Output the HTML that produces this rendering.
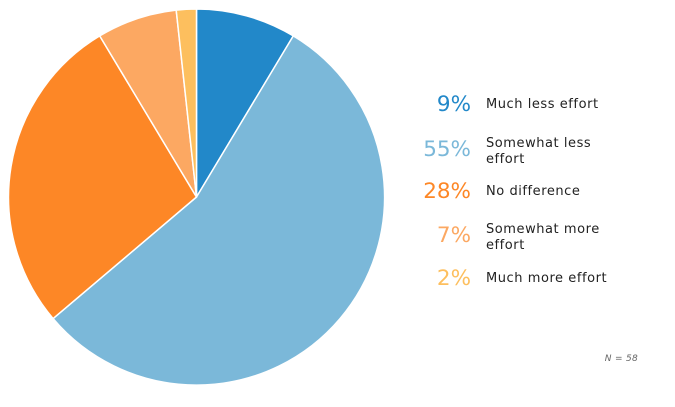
<!DOCTYPE html>
<html><head><meta charset="utf-8"><style>
body{margin:0;background:#fff;width:675px;height:407px;overflow:hidden}
svg{display:block}
text{font-family:"DejaVu Sans","Liberation Sans",sans-serif}
</style></head><body>
<svg width="675" height="407" viewBox="0 0 675 407">
<g stroke="#fff" stroke-width="1.5">
<path d="M196.5,197 L196.5,9 A188,188 0 0 1 293.3,35.9 Z" fill="#2288c9"/>
<path d="M196.5,197 L293.3,35.9 A188,188 0 1 1 53.1,318.6 Z" fill="#7bb8d9"/>
<path d="M196.5,197 L53.1,318.6 A188,188 0 0 1 99.7,35.9 Z" fill="#fd8726"/>
<path d="M196.5,197 L99.7,35.9 A188,188 0 0 1 176.2,10.1 Z" fill="#fca862"/>
<path d="M196.5,197 L176.2,10.1 A188,188 0 0 1 196.5,9 Z" fill="#fdbf5e"/>
</g>
<g font-size="21.5" text-anchor="end">
<text x="471" y="111" fill="#2288c9">9%</text>
<text x="471" y="156" fill="#7bb8d9">55%</text>
<text x="471" y="198" fill="#fd8726">28%</text>
<text x="471" y="242" fill="#fca862">7%</text>
<text x="471" y="285" fill="#fdbf5e">2%</text>
</g>
<g font-size="13" fill="#222" letter-spacing="0.55">
<text x="486" y="108">Much less effort</text>
<text x="486" y="147">Somewhat less</text>
<text x="486" y="163">effort</text>
<text x="486" y="195">No difference</text>
<text x="486" y="233">Somewhat more</text>
<text x="486" y="249">effort</text>
<text x="486" y="282">Much more effort</text>
</g>
<text x="638" y="361" font-size="9" font-style="italic" fill="#666" text-anchor="end" letter-spacing="0.3">N = 58</text>
</svg>
</body></html>
